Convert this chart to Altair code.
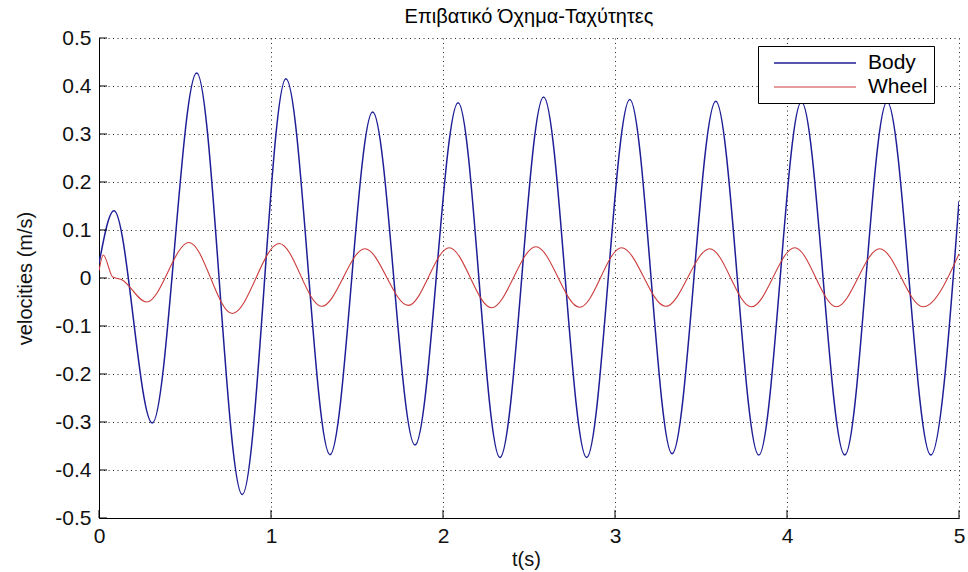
import altair as alt
import pandas as pd

# ---- data ----
body_t = [0.000, 0.087, 0.310, 0.568, 0.833, 1.087, 1.343, 1.591, 1.837, 2.088,
          2.331, 2.585, 2.835, 3.086, 3.332, 3.586, 3.836, 4.084, 4.336, 4.582,
          4.836, 5.000]
body_v = [0.030, 0.140, -0.302, 0.427, -0.451, 0.415, -0.368, 0.346, -0.348, 0.365,
          -0.374, 0.377, -0.374, 0.372, -0.366, 0.368, -0.369, 0.367, -0.369, 0.367,
          -0.369, 0.160]

wheel_t = [0.000, 0.025, 0.080, 0.130, 0.277, 0.523, 0.775, 1.048, 1.294, 1.546,
           1.798, 2.036, 2.282, 2.540, 2.795, 3.038, 3.295, 3.551, 3.793, 4.045,
           4.287, 4.539, 4.791, 5.000]
wheel_v = [0.015, 0.048, 0.002, -0.003, -0.050, 0.074, -0.074, 0.072, -0.059, 0.061,
           -0.057, 0.063, -0.062, 0.065, -0.061, 0.063, -0.059, 0.061, -0.060, 0.063,
           -0.060, 0.061, -0.060, 0.050]

series_names = ["Body", "Wheel"]
series_colors = ["#1e1e96", "#cc3b3b"]

x_ticks = [0, 1, 2, 3, 4, 5]
y_ticks = [-0.5, -0.4, -0.3, -0.2, -0.1, 0, 0.1, 0.2, 0.3, 0.4, 0.5]

title_text = "Επιβατικό Όχημα-Ταχύτητες"
x_title = "t(s)"
y_title = "velocities (m/s)"

# ---- build tables ----
df = pd.concat([
    pd.DataFrame({"t": body_t, "v": body_v, "series": series_names[0]}),
    pd.DataFrame({"t": wheel_t, "v": wheel_v, "series": series_names[1]}),
], ignore_index=True)
xt_df = pd.DataFrame({"t": x_ticks})
yt_df = pd.DataFrame({"v": y_ticks})

W, H = 860, 480
FONT = "Liberation Sans"

x_scale = alt.Scale(domain=[0, 5], nice=False, zero=False)
y_scale = alt.Scale(domain=[-0.5, 0.5], nice=False, zero=False)

x_axis = alt.Axis(values=x_ticks, title=x_title, grid=True, tickSize=0,
                  labelExpr="toString(datum.value)", labelPadding=7, labelFlush=False,
                  titleX=427, titleY=41, titleAlign="center", titleBaseline="middle")
y_axis = alt.Axis(values=y_ticks, title=y_title, grid=True, tickSize=0,
                  labelExpr="toString(datum.value)", labelPadding=8, labelFlush=False,
                  titleX=-74, titleY=240, titleAlign="center", titleBaseline="middle",
                  titleAngle=270)

lines = alt.Chart(df).mark_line(interpolate="monotone", clip=True).encode(
    x=alt.X("t:Q", scale=x_scale, axis=x_axis),
    y=alt.Y("v:Q", scale=y_scale, axis=y_axis),
    color=alt.Color("series:N",
                    scale=alt.Scale(domain=series_names, range=series_colors),
                    legend=alt.Legend(orient="none", legendX=659, legendY=8, title=None,
                                      strokeColor="black", fillColor="white", padding=6,
                                      symbolType="M-0.1,0H8.1", symbolSize=400,
                                      symbolStrokeWidth=1.3, labelFontSize=21,
                                      labelFont=FONT, labelColor="black",
                                      labelOffset=82, rowPadding=3)),
    strokeWidth=alt.StrokeWidth("series:N",
                                scale=alt.Scale(domain=series_names, range=[1.5, 1.1]),
                                legend=None),
)

xticks = alt.Chart(xt_df).mark_rule(color="black", strokeWidth=1).encode(
    x=alt.X("t:Q", scale=x_scale, axis=x_axis),
    y=alt.value(H), y2=alt.value(H - 8),
)
yticks = alt.Chart(yt_df).mark_rule(color="black", strokeWidth=1).encode(
    y=alt.Y("v:Q", scale=y_scale, axis=y_axis),
    x=alt.value(0), x2=alt.value(8),
)

chart = alt.layer(lines, xticks, yticks).properties(
    width=W, height=H,
    autosize=alt.AutoSizeParams(type="none"),
    padding={"left": 99, "top": 38, "right": 9, "bottom": 54},
    title=alt.TitleParams(title_text, fontSize=20, fontWeight="normal", font=FONT,
                          color="black", frame="group", offset=0, anchor="middle"),
    background="white",
).configure_view(stroke=None).configure_axis(
    domainColor="black", domainWidth=1,
    gridColor="black", gridDash=[1, 3.5], gridOpacity=0.85, gridWidth=1,
    labelFont=FONT, labelFontSize=21, labelColor="#111",
    titleFont=FONT, titleFontSize=20, titleFontWeight="normal", titleColor="#111",
)

chart.save("out.html", embed_options={"renderer": "svg", "actions": False})
